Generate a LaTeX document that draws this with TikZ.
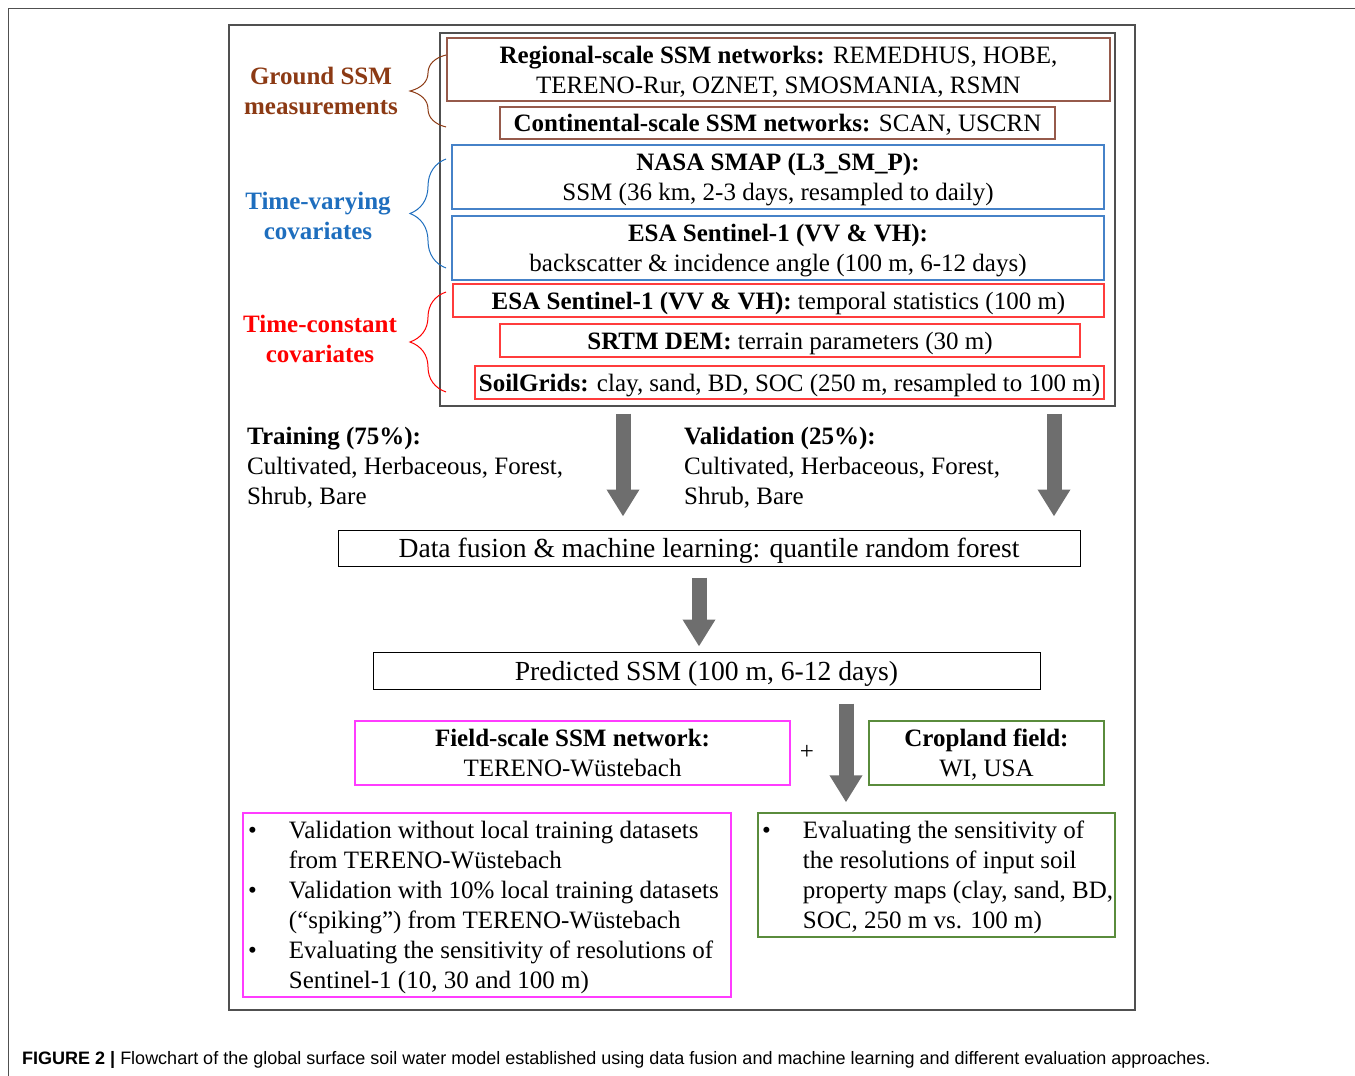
\documentclass[tikz,border=0pt]{standalone}
\usepackage{fontspec}
\setmainfont{Liberation Serif}
\setsansfont{Liberation Sans}
\usetikzlibrary{arrows.meta,decorations.pathreplacing}

\definecolor{brownT}{RGB}{140,58,20}
\definecolor{brownB}{RGB}{150,90,75}
\definecolor{blueT}{RGB}{30,110,190}
\definecolor{blueB}{RGB}{70,130,200}
\definecolor{redT}{RGB}{255,0,0}
\definecolor{redB}{RGB}{255,60,60}
\definecolor{magB}{RGB}{255,60,255}
\definecolor{grnB}{RGB}{90,140,60}
\definecolor{frameG}{RGB}{80,80,80}
\definecolor{arrowG}{RGB}{110,110,110}

\newcommand\boxfont{\fontsize{25}{30}\selectfont}
\newcommand\bigboxfont{\fontsize{27.6}{32}\selectfont}

\tikzset{
  srcbox/.style={draw=#1, line width=1.3pt, minimum height=33pt, inner sep=0pt, text depth=0pt, align=center, font=\boxfont},
  grplabel/.style={text=#1, align=center, font=\boxfont\bfseries},
  grpbrace/.style={draw=#1, line width=1pt, decorate, decoration={brace, amplitude=36pt}},
  bigarrow/.style={draw=arrowG, line width=15pt, -{Triangle[width=31pt,length=27pt]}},
}

\begin{document}
\begin{tikzpicture}[x=1pt,y=-1pt]
        \useasboundingbox (0,0) rectangle (1355,1076);
        \draw[frameG, line width=1pt] (1355,8) -- (8,8) -- (8,1076);

        % frames
        \node[draw=frameG, line width=1.3pt, minimum width=906pt, minimum height=985pt] (main) at (682,517.5) {};
        \node[draw=frameG, line width=1.3pt, minimum width=675pt, minimum height=373pt] (cov) at (777.5,219.5) {};

        % ground SSM measurements
        \node[srcbox=brownB, minimum width=663pt, minimum height=63pt] (reg) at (778.5,69.5)
             {\textbf{Regional-scale SSM networks:} REMEDHUS, HOBE,\\TERENO-Rur, OZNET, SMOSMANIA, RSMN};
        \node[srcbox=brownB, minimum width=555pt, minimum height=32pt] (cont) at (777.5,123)
             {\textbf{Continental-scale SSM networks:} SCAN, USCRN};

        % time-varying covariates
        \node[srcbox=blueB, minimum width=652pt, minimum height=64pt] (smap) at (778,177)
             {\textbf{NASA SMAP (L3\_SM\_P):}\\SSM (36 km, 2-3 days, resampled to daily)};
        \node[srcbox=blueB, minimum width=652pt, minimum height=64pt] (sent) at (778,248)
             {\textbf{ESA Sentinel-1 (VV \& VH):}\\backscatter \& incidence angle (100 m, 6-12 days)};

        % time-constant covariates
        \node[srcbox=redB, minimum width=651pt] (stat) at (778.5,300.5)
             {\textbf{ESA Sentinel-1 (VV \& VH):} temporal statistics (100 m)};
        \node[srcbox=redB, minimum width=580pt] (dem) at (790,340.5)
             {\textbf{SRTM DEM:} terrain parameters (30 m)};
        \node[srcbox=redB, minimum width=629pt] (soil) at (789.5,382.5)
             {\textbf{SoilGrids:} clay, sand, BD, SOC (250 m, resampled to 100 m)};

        % group labels and braces
        \node[grplabel=brownT] (gnd) at (321,91) {Ground SSM\\measurements};
        \node[grplabel=blueT] (tvar) at (318,216) {Time-varying\\covariates};
        \node[grplabel=redT] (tcon) at (320,339) {Time-constant\\covariates};
        \draw[grpbrace=brownT] (446,127) -- (446,55);
        \draw[grpbrace=blueT] (446,268) -- (446,159);
        \draw[grpbrace=redT] (446,392) -- (446,292);

        % split
        \node[anchor=north west, align=left, font=\boxfont, inner sep=0pt] (train) at (247,427)
             {\textbf{Training (75\%):}\\Cultivated, Herbaceous, Forest,\\Shrub, Bare};
        \node[anchor=north west, align=left, font=\boxfont, inner sep=0pt] (valid) at (684,427)
             {\textbf{Validation (25\%):}\\Cultivated, Herbaceous, Forest,\\Shrub, Bare};

        % model
        \node[srcbox=black, line width=1pt, minimum width=742pt, minimum height=36pt, font=\bigboxfont] (fusion) at (709,548)
             {Data fusion \& machine learning: quantile random forest};
        \node[srcbox=black, line width=1pt, minimum width=667pt, minimum height=37pt, font=\bigboxfont] (pred) at (706.5,670.5)
             {Predicted SSM (100 m, 6-12 days)};

        % evaluation
        \node[srcbox=magB, minimum width=435pt, minimum height=64pt] (field) at (572.5,753)
             {\textbf{Field-scale SSM network:}\\TERENO-Wüstebach};
        \node[srcbox=grnB, minimum width=235pt, minimum height=64pt] (crop) at (986.5,753)
             {\textbf{Cropland field:}\\WI, USA};
        \node[font=\boxfont] (plus) at (807,752) {+};

        \node[srcbox=magB, minimum width=488pt, minimum height=184pt] (fieldlist) at (487,905) {};
        \node[anchor=north west, inner sep=0pt, font=\boxfont, align=left] (fieldtxt) at (248,817)
             {\begin{tabular}{@{}l@{\hspace{32pt}}l@{}}
              \textbullet & Validation without local training datasets\\
                          & from TERENO-Wüstebach\\
              \textbullet & Validation with 10\% local training datasets\\
                          & (“spiking”) from TERENO-Wüstebach\\
              \textbullet & Evaluating the sensitivity of resolutions of\\
                          & Sentinel-1 (10, 30 and 100 m)
              \end{tabular}};
        \node[srcbox=grnB, minimum width=357pt, minimum height=124pt] (croplist) at (936.5,875) {};
        \node[anchor=north west, inner sep=0pt, font=\boxfont, align=left] (croptxt) at (762,817)
             {\begin{tabular}{@{}l@{\hspace{32pt}}l@{}}
              \textbullet & Evaluating the sensitivity of\\
                          & the resolutions of input soil\\
                          & property maps (clay, sand, BD,\\
                          & SOC, 250 m vs. 100 m)
              \end{tabular}};

        % arrows
        \draw[bigarrow, shorten <=7pt, shorten >=13pt] ([xshift=-154.5pt]cov.south) -- ([xshift=-154.5pt]cov.south |- fusion.north);
        \draw[bigarrow, shorten <=7pt, shorten >=13pt] ([xshift=276.5pt]cov.south) -- ([xshift=276.5pt]cov.south |- fusion.north);
        \draw[bigarrow, shorten <=11pt, shorten >=5pt] ([xshift=-10pt]fusion.south) -- ([xshift=-10pt]fusion.south |- pred.north);
        \draw[bigarrow, shorten <=14pt, shorten >=10pt] ([xshift=139.5pt]pred.south) -- ([xshift=139.5pt]pred.south |- croplist.north);

        % caption
        \node[anchor=base west, inner sep=0pt, font=\sffamily\fontsize{18}{20}\selectfont] (caption) at (22,1064)
             {\textbf{FIGURE 2 |} Flowchart of the global surface soil water model established using data fusion and machine learning and different evaluation approaches.};
\end{tikzpicture}
\end{document}
